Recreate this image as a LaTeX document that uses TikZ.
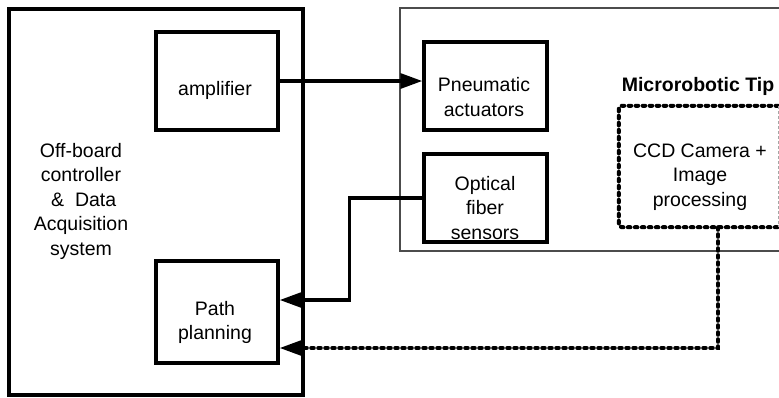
\documentclass[tikz,border=0pt]{standalone}
\usepackage{fontspec}
\setmainfont{Liberation Sans}
\usetikzlibrary{arrows.meta}
\tikzset{
  box/.style={draw, line width=3.4pt, minimum width=#1, inner sep=0pt},
  txt/.style={align=center, inner sep=0pt, font=\fontsize{19.5}{24.5}\selectfont},
  conn/.style={line width=3.4pt, -{Triangle[length=22pt,width=15pt]}},
  dotline/.style={line width=4pt, line cap=round, dash pattern=on 2.6pt off 4.4pt},
}
\begin{document}
\begin{tikzpicture}[x=1pt,y=-1pt]
\clip (0,0) rectangle (779,397);
\fill[white] (0,0) rectangle (779,397);
% thin outer box of tip
\draw[line width=1.2pt, black!70] (795,8) -- (400,8) -- (400,251) -- (795,251);
% boxes
\node[box=294pt, minimum height=386pt, line width=3.6pt] (ctrl) at (156,202) {};
\node[box=122pt, minimum height=98pt] (amp) at (217,81) {};
\node[box=123pt, minimum height=88pt] (pneu) at (485.5,86) {};
\node[box=123pt, minimum height=88pt] (opt) at (485.5,198) {};
\node[box=122pt, minimum height=102pt] (pp) at (217,312) {};
\node[minimum width=159pt, minimum height=121pt, inner sep=0pt] (ccd) at (698.5,166.5) {};
\draw[dotline, rounded corners=3pt] (ccd.north east) -- (ccd.north west) -- (ccd.south west) -- (ccd.south east);
\draw[line width=0.8pt, black!35, dash pattern=on 3pt off 2pt] (ccd.north east) -- (ccd.south east);
% texts
\node[txt] (tctrl) at (81,201) {Off-board\\controller\\~\&~~Data\\Acquisition\\system};
\node[txt] (tamp) at (215,90) {amplifier};
\node[txt] (tpneu) at (484,97) {Pneumatic\\actuators};
\node[txt] (topt) at (485,208) {Optical\\fiber\\sensors};
\node[txt] (tpp) at (215,322.5) {Path\\planning};
\node[txt] (tccd) at (700,177) {CCD Camera +\\Image\\processing};
\node[inner sep=0pt, font=\fontsize{19.5}{23}\selectfont\bfseries] (ttip) at (698,86) {Microrobotic Tip};
% connectors
\draw[conn] (amp.east) -- (amp.east -| pneu.west);
\draw[conn] (opt.west) -- ++(-73,0) |- ([yshift=12pt]pp.east);
\draw[dotline] ([xshift=19.5pt]ccd.south) |- ([yshift=-36pt,xshift=20pt]pp.east);
\draw[line width=3.4pt, -{Triangle[length=22pt,width=15pt]}] ([yshift=-36pt,xshift=22pt]pp.east) -- ([yshift=-36pt]pp.east);
\end{tikzpicture}
\end{document}
